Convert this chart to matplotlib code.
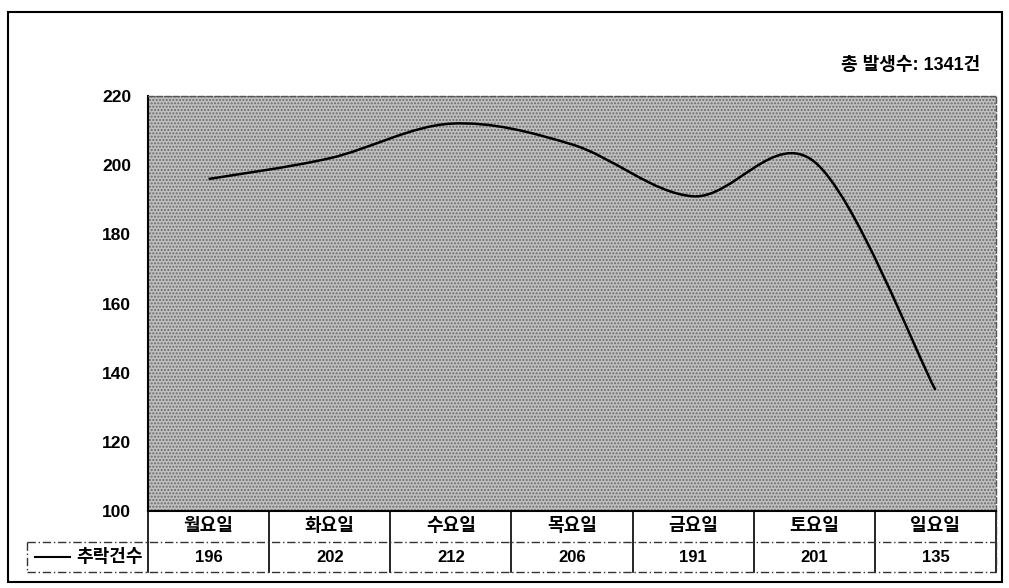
import numpy as np
import matplotlib.pyplot as plt
from matplotlib.path import Path
from matplotlib.patches import PathPatch, Rectangle
from matplotlib.lines import Line2D
import matplotlib.transforms as mtransforms

plt.rcParams['font.family'] = ['Liberation Sans', 'Noto Sans CJK KR', 'DejaVu Sans']

days = ['월요일', '화요일', '수요일', '목요일', '금요일', '토요일', '일요일']
falls = [196, 202, 212, 206, 191, 201, 135]
series_name = '추락건수'
total_label = '총 발생수: 1341건'
yticks = [100, 120, 140, 160, 180, 200, 220]

fig = plt.figure(figsize=(10.09, 5.88), dpi=100)
ax = fig.add_axes([148 / 1009, 1 - 511 / 588, 848 / 1009, 415 / 588])

x = np.arange(len(falls))
ax.set_xlim(-0.5, len(falls) - 0.5)
ax.set_ylim(100, 220)

# textured grey plot area
ax.set_facecolor('#c0c0c0')
ax.add_patch(Rectangle((0, 0), 1, 1, transform=ax.transAxes, facecolor='none',
                       edgecolor='#6a6a6a', hatch='.....', linewidth=0, zorder=0.5))

# smoothed line (cubic bezier through the points, catmull-rom style)
pts = np.column_stack([x, falls]).astype(float)
ext = np.vstack([pts[0], pts, pts[-1]])
verts = [tuple(pts[0])]
codes = [Path.MOVETO]
for i in range(len(pts) - 1):
    p0, p1, p2, p3 = ext[i], ext[i + 1], ext[i + 2], ext[i + 3]
    c1 = p1 + (p2 - p0) / 6
    c2 = p2 - (p3 - p1) / 6
    verts += [tuple(c1), tuple(c2), tuple(p2)]
    codes += [Path.CURVE4] * 3
ax.add_patch(PathPatch(Path(verts, codes), facecolor='none', edgecolor='black',
                       linewidth=1.8, zorder=3))

ax.set_yticks(yticks)
ax.set_yticklabels([str(t) for t in yticks], fontsize=12.5, fontweight='bold')
ax.tick_params(axis='y', length=0, pad=12)
ax.set_xticks([])
for s in ['top', 'right']:
    ax.spines[s].set_linestyle((0, (4, 2)))
    ax.spines[s].set_color('#555555')
    ax.spines[s].set_linewidth(1)
ax.spines['left'].set_linewidth(1.5)
ax.spines['bottom'].set_linewidth(1.5)

# data table under the axis
tr = mtransforms.blended_transform_factory(ax.transData, ax.transAxes)
r1 = -31 / 415
r2 = -61 / 415
for i, (d, v) in enumerate(zip(days, falls)):
    ax.text(i, r1 / 2, d, transform=tr, ha='center', va='center',
            fontsize=13, fontweight='bold')
    ax.text(i, (r1 + r2) / 2, str(v), transform=tr, ha='center', va='center',
            fontsize=12, fontweight='bold')
for b in np.arange(-0.5, len(falls), 1.0):
    ax.add_line(Line2D([b, b], [0, r2], transform=tr, color='black',
                       linewidth=1.2, clip_on=False))
dash = (0, (6, 2, 1, 2))
left_cell = (27 - 148) / 848
for yy in [r1, r2]:
    ax.add_line(Line2D([left_cell, 1], [yy, yy], transform=ax.transAxes,
                       color='#333333', linewidth=1, linestyle=dash, clip_on=False))
ax.add_line(Line2D([left_cell, left_cell], [r1, r2], transform=ax.transAxes,
                   color='#333333', linewidth=1, linestyle=dash, clip_on=False))
ax.add_line(Line2D([1, 1], [0, r2], transform=ax.transAxes,
                   color='#333333', linewidth=1, linestyle=dash, clip_on=False))

# legend key in the table
ym = (r1 + r2) / 2
ax.add_line(Line2D([(35 - 148) / 848, (70 - 148) / 848], [ym, ym], transform=ax.transAxes,
                   color='black', linewidth=1.5, clip_on=False))
ax.text((76 - 148) / 848, ym, series_name, transform=ax.transAxes, ha='left', va='center',
        fontsize=13, fontweight='bold')

fig.text(980 / 1009, 1 - 66 / 588, total_label, ha='right', va='center',
         fontsize=13, fontweight='bold')

# outer frame
fig.add_artist(Rectangle((8 / 1009, 1 - 582 / 588), 994 / 1009, 570 / 588,
                         transform=fig.transFigure, facecolor='none',
                         edgecolor='black', linewidth=1.5))

fig.savefig('out.png', dpi=100)
